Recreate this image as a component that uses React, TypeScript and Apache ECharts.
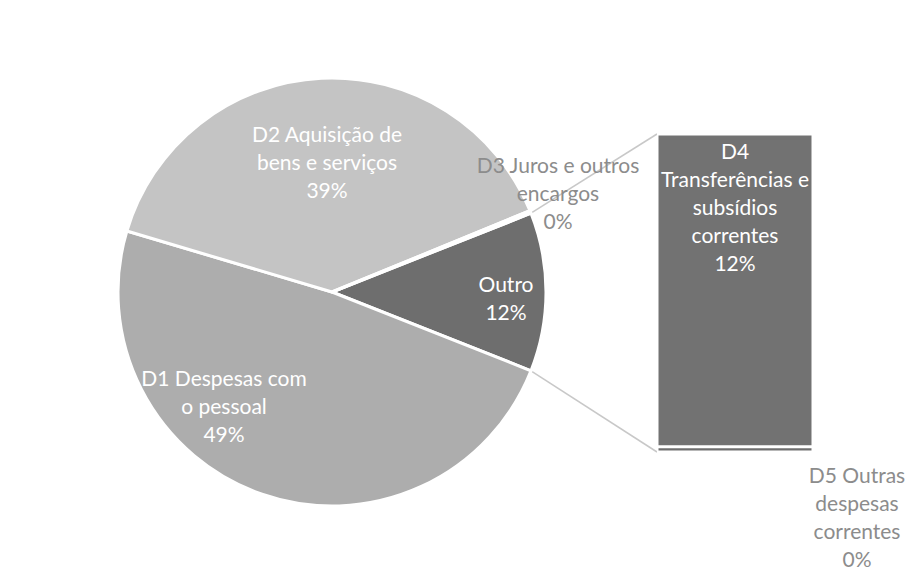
import React, { useEffect, useRef } from "react";
import * as echarts from "echarts";

// ---- data ----
const pieCategories = [
  "Outro",
  "D1 Despesas com\no pessoal",
  "D2 Aquisição de\nbens e serviços",
  "D3 Juros e outros\nencargos",
];
const pieValues = [12.0, 48.6, 39.2, 0.2];

const barCategories = [
  "D5 Outras\ndespesas\ncorrentes",
  "D4\nTransferências e\nsubsídios\ncorrentes",
];
const barValues = [0.2, 11.8];

// ---- layout ----
const W = 915;
const H = 569;
const CX = 332;
const CY = 292;
const R = 214;
const GRID_LEFT = 657;
const GRID_TOP = 134;
const GRID_W = 156;
const GRID_H = 318;
const FONT = "Lato, 'Open Sans', sans-serif";
const FS = 21;
const LH = 28;

// label centres relative to pie centre
const pieLabelOffsets: [number, number][] = [
  [174, 5],
  [-108, 113],
  [-5, -131],
  [226, -100],
];

export default function App() {
  const ref = useRef<HTMLDivElement>(null);
  useEffect(() => {
    if (!ref.current) return;
    const chart = echarts.init(ref.current, undefined, { renderer: "svg" });
    const total = pieValues.reduce((a, b) => a + b, 0);
    const outroShare = pieValues[0] / total;
    const startAngle = (outroShare * 360) / 2;
    const barTotal = barValues.reduce((a, b) => a + b, 0);
    const pct = (v: number) => `${Math.round((v / total) * 100)}%`;

    const whiteLabel = {
      show: true,
      position: "inside",
      color: "#ffffff",
      fontFamily: FONT,
      fontSize: FS,
      lineHeight: LH,
      align: "center",
    };
    const grayLabel = {
      ...whiteLabel,
      color: "#8c8c8c",
    };

    const pieColors = ["#6e6e6e", "#adadad", "#c4c4c4", "#9a9a9a"];

    // connector endpoints
    const a = (startAngle * Math.PI) / 180;
    const p1 = [CX + R * Math.cos(a), CY - R * Math.sin(a)];
    const p2 = [CX + R * Math.cos(-a), CY - R * Math.sin(-a)];

    chart.setOption({
      animation: false,
      backgroundColor: "#ffffff",
      grid: {
        left: GRID_LEFT,
        top: GRID_TOP,
        width: GRID_W,
        height: GRID_H,
      },
      xAxis: {
        type: "category",
        data: [""],
        show: false,
      },
      yAxis: {
        type: "value",
        min: 0,
        max: barTotal,
        show: false,
      },
      graphic: [
        {
          type: "line",
          z: -1,
          shape: { x1: p1[0], y1: p1[1], x2: GRID_LEFT, y2: GRID_TOP },
          style: { stroke: "#c8c8c8", lineWidth: 1.5 },
        },
        {
          type: "line",
          z: -1,
          shape: { x1: p2[0], y1: p2[1], x2: GRID_LEFT, y2: GRID_TOP + GRID_H },
          style: { stroke: "#c8c8c8", lineWidth: 1.5 },
        },
      ],
      series: [
        {
          type: "pie",
          center: [CX, CY],
          radius: [0, R],
          startAngle,
          clockwise: true,
          avoidLabelOverlap: false,
          itemStyle: { borderColor: "#ffffff", borderWidth: 3 },
          labelLine: { show: false },
          label: {
            ...whiteLabel,
            formatter: (p: any) => `${p.name}\n${pct(p.value)}`,
          },
          labelLayout: (params: any) => {
            const o = pieLabelOffsets[params.dataIndex];
            return {
              x: CX + o[0],
              y: CY + o[1],
              align: "center",
              verticalAlign: "middle",
            };
          },
          data: pieCategories.map((name, i) => ({
            name,
            value: pieValues[i],
            itemStyle: { color: pieColors[i] },
            label: i === 3 ? { ...grayLabel, position: "outside" } : undefined,
          })),
        },
        {
          type: "bar",
          name: barCategories[0],
          stack: "s",
          barWidth: "100%",
          barCategoryGap: 0,
          itemStyle: { color: "#6e6e6e", borderColor: "#ffffff", borderWidth: 1.5 },
          label: {
            ...grayLabel,
            position: "bottom",
            distance: 8,
            offset: [122, 0],
            formatter: (p: any) => `${barCategories[0]}\n${pct(p.value)}`,
          },
          data: [barValues[0]],
        },
        {
          type: "bar",
          name: barCategories[1],
          stack: "s",
          barWidth: "100%",
          barCategoryGap: 0,
          itemStyle: { color: "#727272", borderColor: "#ffffff", borderWidth: 1.5 },
          label: {
            ...whiteLabel,
            position: "insideTop",
            distance: 2,
            formatter: (p: any) => `${barCategories[1]}\n${pct(p.value)}`,
          },
          data: [barValues[1]],
        },
      ],
    });
    return () => chart.dispose();
  }, []);
  return (
    <div
      ref={ref}
      style={{ position: "fixed", left: 0, top: 0, width: W, height: H }}
    />
  );
}
